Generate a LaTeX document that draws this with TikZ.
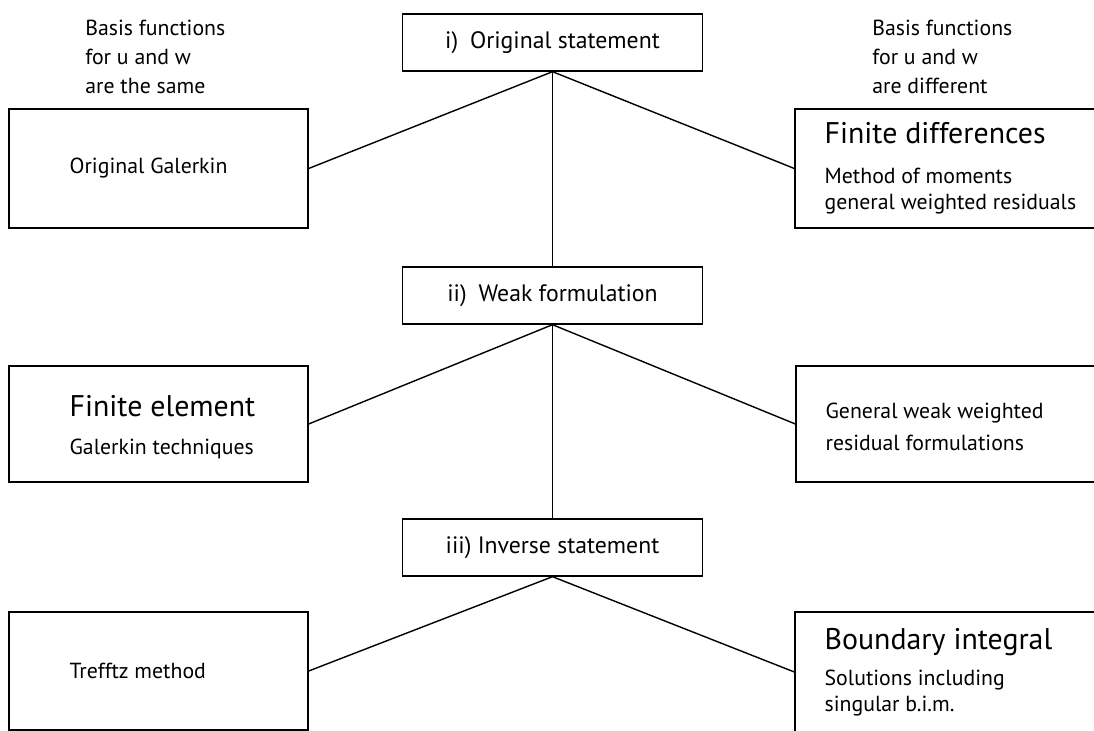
\documentclass[tikz,border=0pt]{standalone}
\usepackage{fontspec}
\setmainfont{PT Sans}
\usetikzlibrary{positioning}

\tikzset{
  box/.style={draw, line width=0.8pt, minimum width=5.98cm, minimum height=2.38cm, inner sep=0pt},
  stage/.style={draw, line width=0.8pt, minimum width=6cm, minimum height=1.14cm, inner sep=0pt, font=\fontsize{13.5}{16}\selectfont},
  txt/.style={align=left, inner sep=0pt, anchor=west, font=\fontsize{12.4}{14.7}\selectfont},
  link/.style={line width=0.8pt},
}
\newcommand{\headtxt}[1]{{\fontsize{17}{20}\selectfont #1}}

\begin{document}
\begin{tikzpicture}
    \useasboundingbox (0,0) rectangle (21.88,14.62);

    % stage boxes
    \node[stage] (orig) at (11.05,13.77) {i)\enspace Original statement};
    \node[stage] (weak) at (11.05,8.71) {ii)\enspace Weak formulation};
    \node[stage] (inv) at (11.05,3.67) {iii) Inverse statement};

    % basis labels
    \node[txt, font=\fontsize{12.4}{16.4}\selectfont] (same) at (1.7,13.48) {Basis functions\\for u and w\\are the same};
    \node[txt, font=\fontsize{12.4}{16.4}\selectfont] (diff) at (17.44,13.48) {Basis functions\\for u and w\\are different};

    % first row
    \node[box] (og) at (3.17,11.25) {};
    \node[txt, right=1.22cm of og.west] (ogt) {Original Galerkin};
    \node[box, minimum width=6.1cm] (fd) at (18.95,11.25) {};
    \node[txt, right=0.6cm of fd.west] (fdt) {\headtxt{Finite differences}\\[8pt]Method of moments\\general weighted residuals};

    % second row
    \node[box, minimum height=2.32cm] (fe) at (3.17,6.14) {};
    \node[txt, right=1.22cm of fe.west, yshift=-0.06cm] (fet) {\headtxt{Finite element}\\[7pt]Galerkin techniques};
    \node[box, minimum width=6.1cm, minimum height=2.32cm] (gw) at (18.97,6.14) {};
    \node[txt, right=0.6cm of gw.west, yshift=-0.06cm, font=\fontsize{12.4}{18}\selectfont] (gwt) {General weak weighted\\residual formulations};

    % third row
    \node[box, minimum height=2.36cm] (tm) at (3.17,1.2) {};
    \node[txt, right=1.22cm of tm.west] (tmt) {Trefftz method};
    \node[box, minimum width=6.1cm, minimum height=2.4cm] (bi) at (18.95,1.18) {};
    \node[txt, right=0.6cm of bi.west] (bit) {\headtxt{Boundary integral}\\[6pt]Solutions including\\singular b.i.m.};

    % links
    \draw[link] (orig.south) -- (og.east);
    \draw[link] (orig.south) -- (fd.west);
    \draw[link] (orig.south) -- (weak.north);
    \draw[link] (weak.south) -- (fe.east);
    \draw[link] (weak.south) -- (gw.west);
    \draw[link] (weak.south) -- (inv.north);
    \draw[link] (inv.south) -- (tm.east);
    \draw[link] (inv.south) -- (bi.west);
\end{tikzpicture}
\end{document}
